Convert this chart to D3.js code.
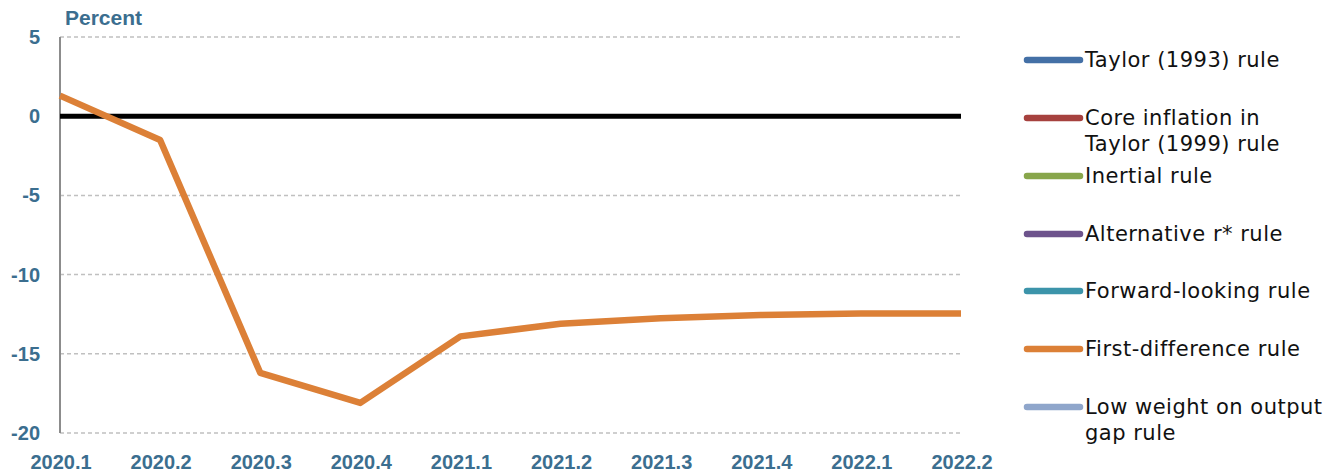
<!DOCTYPE html>
<html>
<head>
<meta charset="utf-8">
<script src="https://cdn.jsdelivr.net/npm/d3@7"></script>
<style>
body { margin: 0; background: #fff; }
</style>
</head>
<body>
<svg id="chart" width="1328" height="472"></svg>
<script>
// quarters along the x axis
var quarters = ["2020.1","2020.2","2020.3","2020.4","2021.1","2021.2","2021.3","2021.4","2022.1","2022.2"];
// first-difference rule, percent
var firstDiff = [1.3, -1.5, -16.2, -18.1, -13.9, -13.1, -12.75, -12.55, -12.45, -12.45];
var yTicks = [5, 0, -5, -10, -15, -20];

var ruleNames = ["Taylor (1993) rule", "Core inflation in|Taylor (1999) rule", "Inertial rule",
	"Alternative r* rule", "Forward-looking rule", "First-difference rule", "Low weight on output|gap rule"];
var ruleColors = ["#4470a6", "#a6413e", "#88a64b", "#6d538c", "#3c94aa", "#dc8037", "#8fa6cb"];

var svg = d3.select("#chart");
var plotL = 60, plotR = 961, plotT = 37, plotB = 433;
var axisColor = "#3b6e8f";
var axisFont = "'Liberation Sans', Arial, sans-serif";

var x = d3.scalePoint().domain(quarters).range([plotL, plotR]);
var y = d3.scaleLinear().domain([-20, 5]).range([plotB, plotT]);

// gridlines
svg.append("g").selectAll("line")
	.data(yTicks.filter(function(d){ return d != 0; }))
	.enter().append("line")
	.attr("x1", plotL).attr("x2", plotR)
	.attr("y1", function(d){ return y(d); })
	.attr("y2", function(d){ return y(d); })
	.attr("stroke", "#c0c0c0")
	.attr("stroke-width", 1.5)
	.attr("stroke-dasharray", "4,3");

// left axis line
svg.append("line")
	.attr("x1", plotL).attr("x2", plotL)
	.attr("y1", plotT).attr("y2", plotB)
	.attr("stroke", "#8c8c8c").attr("stroke-width", 2);

// zero line
svg.append("line")
	.attr("x1", plotL).attr("x2", plotR)
	.attr("y1", y(0)).attr("y2", y(0))
	.attr("stroke", "#000").attr("stroke-width", 5);

// y tick labels
svg.append("g").selectAll("text")
	.data(yTicks)
	.enter().append("text")
	.attr("x", 40)
	.attr("y", function(d){ return y(d); })
	.attr("dy", "0.35em")
	.attr("text-anchor", "end")
	.style("font-family", axisFont)
	.attr("font-size", 20)
	.attr("font-weight", "bold")
	.attr("fill", axisColor)
	.text(function(d){ return d; });

// x tick labels
svg.append("g").selectAll("text")
	.data(quarters)
	.enter().append("text")
	.attr("x", function(d){ return x(d) + 1; })
	.attr("y", 469)
	.attr("text-anchor", "middle")
	.style("font-family", axisFont)
	.attr("font-size", 20)
	.attr("font-weight", "bold")
	.attr("fill", axisColor)
	.text(function(d){ return d; });

svg.append("text")
	.attr("x", 65).attr("y", 25)
	.style("font-family", axisFont)
	.attr("font-size", 21)
	.attr("font-weight", "bold")
	.attr("fill", axisColor)
	.text("Percent");

// the series
var line = d3.line()
	.x(function(d, i){ return x(quarters[i]); })
	.y(function(d){ return y(d); });

svg.append("path")
	.datum(firstDiff)
	.attr("d", line)
	.attr("fill", "none")
	.attr("stroke", ruleColors[5])
	.attr("stroke-width", 6.5)
	.attr("stroke-linejoin", "round");

// legend
var legendY = [60, 118, 176, 234, 291, 349, 407];
var legend = svg.append("g").selectAll("g")
	.data(ruleNames)
	.enter().append("g")
	.attr("transform", function(d, i){ return "translate(0," + legendY[i] + ")"; });

legend.append("line")
	.attr("x1", 1027).attr("x2", 1080)
	.attr("stroke", function(d, i){ return ruleColors[i]; })
	.attr("stroke-width", 6.5)
	.attr("stroke-linecap", "round");

legend.append("text")
	.style("font-family", "'DejaVu Sans', Verdana, sans-serif")
	.style("letter-spacing", "0.5px")
	.attr("font-size", 21)
	.attr("fill", "#111")
	.selectAll("tspan")
	.data(function(d){ return d.split("|"); })
	.enter().append("tspan")
	.attr("x", 1085)
	.attr("y", function(d, i){ return 7 + i * 26; })
	.text(function(d){ return d; });
</script>
</body>
</html>
